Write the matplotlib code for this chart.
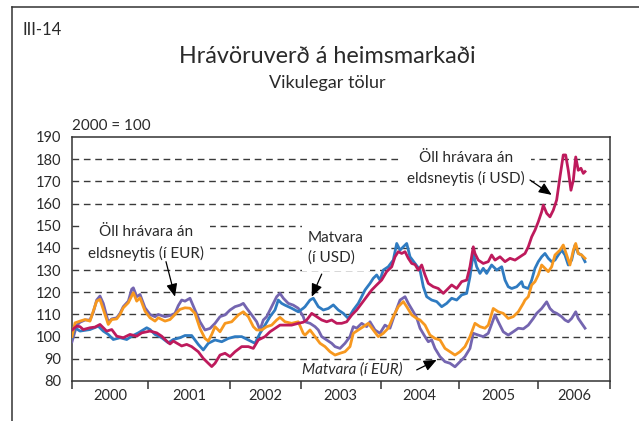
import numpy as np
import matplotlib
matplotlib.use("Agg")
import matplotlib.pyplot as plt
from matplotlib.lines import Line2D

plt.rcParams['font.family'] = ['Lato', 'DejaVu Sans']
plt.rcParams['lines.scale_dashes'] = False

# ---------------------------------------------------------------------------
# Weekly commodity price indices, 2000 = 100 (time in decimal years)
# ---------------------------------------------------------------------------
year_edges = [2000.0, 2000.989, 2002.056, 2002.976, 2004.017, 2005.032, 2006.063, 2007.0]
year_labels = ['2000', '2001', '2002', '2003', '2004', '2005', '2006']

# All commodities excl. fuel, in USD
t_all_usd = [2000.000, 2000.061, 2000.104, 2000.147, 2000.234, 2000.299, 2000.364, 2000.451, 2000.517, 2000.582,
             2000.667, 2000.755, 2000.842, 2000.907, 2001.015, 2001.102, 2001.167, 2001.232, 2001.275, 2001.318,
             2001.427, 2001.492, 2001.557, 2001.643, 2001.708, 2001.773, 2001.818, 2001.861, 2001.926, 2001.991,
             2002.056, 2002.121, 2002.208, 2002.294, 2002.359, 2002.424, 2002.511, 2002.576, 2002.641, 2002.706,
             2002.771, 2002.858, 2002.944, 2003.009, 2003.054, 2003.119, 2003.184, 2003.249, 2003.314, 2003.379,
             2003.444, 2003.509, 2003.574, 2003.639, 2003.704, 2003.769, 2003.834, 2003.899, 2003.964, 2004.029,
             2004.094, 2004.160, 2004.203, 2004.245, 2004.290, 2004.333, 2004.376, 2004.420, 2004.463, 2004.506,
             2004.550, 2004.593, 2004.636, 2004.701, 2004.766, 2004.831, 2004.875, 2004.940, 2005.005, 2005.070,
             2005.135, 2005.178, 2005.221, 2005.243, 2005.286, 2005.351, 2005.416, 2005.460, 2005.504, 2005.569,
             2005.634, 2005.699, 2005.764, 2005.829, 2005.894, 2005.937, 2005.981, 2006.024, 2006.067, 2006.111,
             2006.132, 2006.176, 2006.219, 2006.262, 2006.306, 2006.349, 2006.392, 2006.423, 2006.457, 2006.492,
             2006.523, 2006.554, 2006.587, 2006.622, 2006.653, 2006.675]
v_all_usd = [103.0, 104.7, 104.5, 103.2, 104.0, 104.3, 105.5, 102.5, 103.2, 100.2,
             99.5, 101.0, 100.2, 101.7, 102.5, 101.7, 100.2, 98.0, 96.7, 98.0,
             95.8, 96.5, 95.5, 93.2, 90.2, 88.0, 86.5, 88.0, 91.7, 92.5,
             91.0, 93.2, 95.5, 95.5, 94.7, 98.5, 100.0, 102.2, 103.7, 105.2,
             105.2, 105.2, 106.0, 106.5, 107.5, 110.5, 109.0, 107.5, 106.7, 107.5,
             106.0, 106.0, 106.7, 109.7, 112.0, 115.0, 118.0, 121.0, 123.3, 125.5,
             129.3, 131.5, 136.0, 138.3, 137.5, 138.3, 135.3, 133.0, 132.5, 130.0,
             132.3, 127.8, 124.0, 122.5, 121.7, 119.5, 121.0, 123.3, 121.7, 124.8,
             125.5, 131.5, 140.5, 137.5, 134.5, 133.0, 133.8, 136.8, 134.5, 136.0,
             133.8, 135.3, 134.5, 136.0, 137.5, 140.5, 145.0, 148.0, 151.8, 156.3,
             159.3, 155.6, 154.0, 157.0, 161.6, 172.0, 181.9, 181.9, 175.0, 166.0,
             170.6, 181.0, 175.0, 175.9, 173.6, 174.4]

# Food, in USD
t_food_usd = [2000.000, 2000.039, 2000.104, 2000.234, 2000.342, 2000.407, 2000.472, 2000.537, 2000.625, 2000.712,
              2000.777, 2000.863, 2000.972, 2001.015, 2001.080, 2001.167, 2001.253, 2001.318, 2001.405, 2001.470,
              2001.557, 2001.643, 2001.708, 2001.773, 2001.861, 2001.948, 2002.034, 2002.121, 2002.208, 2002.294,
              2002.381, 2002.446, 2002.511, 2002.576, 2002.641, 2002.684, 2002.728, 2002.771, 2002.858, 2002.944,
              2003.009, 2003.032, 2003.097, 2003.140, 2003.205, 2003.270, 2003.335, 2003.400, 2003.465, 2003.530,
              2003.595, 2003.660, 2003.725, 2003.769, 2003.812, 2003.877, 2003.920, 2003.964, 2004.007, 2004.050,
              2004.115, 2004.180, 2004.225, 2004.268, 2004.311, 2004.355, 2004.398, 2004.463, 2004.528, 2004.571,
              2004.615, 2004.680, 2004.745, 2004.810, 2004.875, 2004.940, 2005.005, 2005.070, 2005.135, 2005.178,
              2005.221, 2005.265, 2005.308, 2005.351, 2005.395, 2005.460, 2005.526, 2005.591, 2005.634, 2005.676,
              2005.721, 2005.786, 2005.851, 2005.872, 2005.937, 2005.981, 2006.024, 2006.067, 2006.111, 2006.154,
              2006.197, 2006.241, 2006.284, 2006.327, 2006.371, 2006.414, 2006.457, 2006.501, 2006.545, 2006.587,
              2006.631, 2006.675]
v_food_usd = [99.5, 104.0, 102.5, 103.2, 104.7, 102.5, 101.0, 98.7, 99.5, 98.7,
              100.2, 101.7, 104.0, 103.2, 101.0, 99.5, 97.2, 98.7, 99.5, 100.5,
              100.5, 96.5, 94.0, 97.0, 98.5, 97.7, 99.2, 100.0, 100.0, 98.5,
              97.0, 101.5, 105.2, 109.0, 112.0, 116.5, 115.0, 114.2, 112.8, 111.2,
              112.8, 113.5, 116.5, 117.3, 113.5, 112.0, 112.7, 114.3, 112.0, 110.5,
              108.2, 112.0, 115.0, 118.0, 121.0, 124.0, 126.3, 127.8, 125.5, 130.0,
              131.5, 134.5, 142.0, 139.0, 140.5, 142.0, 136.0, 133.0, 130.0, 122.5,
              118.0, 116.5, 115.8, 113.5, 115.0, 117.3, 116.5, 118.8, 119.5, 127.0,
              137.5, 131.5, 128.5, 130.8, 128.5, 132.3, 130.0, 131.5, 125.5, 122.5,
              121.7, 122.5, 124.8, 122.5, 121.7, 125.5, 130.8, 133.8, 136.0, 137.5,
              135.3, 133.8, 134.5, 136.8, 139.0, 136.8, 132.3, 134.5, 141.3, 137.5,
              136.8, 133.8]

# All commodities excl. fuel, in EUR
t_all_eur = [2000.000, 2000.039, 2000.104, 2000.169, 2000.234, 2000.277, 2000.321, 2000.364, 2000.407, 2000.472,
             2000.517, 2000.582, 2000.625, 2000.667, 2000.733, 2000.798, 2000.842, 2000.885, 2000.950, 2001.015,
             2001.080, 2001.123, 2001.210, 2001.275, 2001.340, 2001.405, 2001.470, 2001.535, 2001.600, 2001.665,
             2001.730, 2001.773, 2001.818, 2001.861, 2001.926, 2001.991, 2002.078, 2002.164, 2002.229, 2002.294,
             2002.359, 2002.403, 2002.468, 2002.533, 2002.598, 2002.663, 2002.706, 2002.771, 2002.858, 2002.944,
             2003.009, 2003.032, 2003.097, 2003.162, 2003.227, 2003.292, 2003.357, 2003.422, 2003.487, 2003.552,
             2003.617, 2003.660, 2003.725, 2003.791, 2003.855, 2003.920, 2003.985, 2004.050, 2004.115, 2004.180,
             2004.245, 2004.311, 2004.355, 2004.420, 2004.485, 2004.528, 2004.593, 2004.658, 2004.723, 2004.788,
             2004.853, 2004.918, 2004.983, 2005.048, 2005.113, 2005.178, 2005.243, 2005.308, 2005.373, 2005.416,
             2005.481, 2005.546, 2005.611, 2005.676, 2005.741, 2005.807, 2005.872, 2005.894, 2005.937, 2005.981,
             2006.024, 2006.067, 2006.111, 2006.154, 2006.197, 2006.241, 2006.284, 2006.349, 2006.392, 2006.436,
             2006.479, 2006.523, 2006.554, 2006.587, 2006.631, 2006.675]
v_all_eur = [100.0, 106.2, 107.0, 107.7, 107.0, 111.5, 116.0, 116.8, 112.3, 105.5,
             107.7, 108.0, 110.0, 113.0, 115.3, 119.8, 116.0, 117.5, 111.5, 108.5,
             107.0, 108.5, 107.0, 107.7, 110.0, 112.3, 113.0, 112.8, 110.5, 103.7,
             99.2, 98.0, 101.0, 104.5, 102.2, 106.0, 106.7, 109.8, 111.2, 109.0,
             104.5, 103.0, 103.0, 104.5, 105.2, 107.5, 108.7, 106.7, 106.0, 106.7,
             101.5, 100.7, 103.0, 100.0, 97.0, 95.5, 93.2, 91.7, 92.5, 93.2,
             95.5, 101.5, 103.0, 104.5, 106.0, 103.0, 100.0, 101.5, 103.8, 109.0,
             113.5, 115.8, 113.5, 109.8, 108.2, 107.5, 105.2, 100.7, 99.2, 98.5,
             94.7, 93.2, 91.7, 93.2, 95.5, 100.0, 106.0, 104.5, 103.8, 105.2,
             112.7, 111.2, 110.5, 108.2, 109.0, 111.2, 115.0, 116.5, 118.0, 123.3,
             124.8, 127.8, 132.3, 130.8, 129.3, 131.5, 136.8, 139.0, 141.3, 136.8,
             132.3, 139.0, 142.0, 137.5, 136.8, 135.3]

# Food, in EUR
t_food_eur = [2000.000, 2000.061, 2000.104, 2000.169, 2000.234, 2000.277, 2000.321, 2000.364, 2000.407, 2000.472,
              2000.517, 2000.582, 2000.625, 2000.667, 2000.733, 2000.777, 2000.798, 2000.842, 2000.885, 2000.950,
              2001.015, 2001.080, 2001.123, 2001.210, 2001.275, 2001.340, 2001.383, 2001.427, 2001.470, 2001.535,
              2001.600, 2001.665, 2001.730, 2001.796, 2001.861, 2001.926, 2001.991, 2002.056, 2002.121, 2002.186,
              2002.229, 2002.273, 2002.338, 2002.403, 2002.446, 2002.489, 2002.533, 2002.598, 2002.663, 2002.706,
              2002.750, 2002.814, 2002.879, 2002.944, 2003.009, 2003.032, 2003.097, 2003.162, 2003.205, 2003.249,
              2003.314, 2003.379, 2003.422, 2003.487, 2003.552, 2003.617, 2003.660, 2003.704, 2003.769, 2003.834,
              2003.877, 2003.942, 2004.007, 2004.072, 2004.137, 2004.203, 2004.268, 2004.333, 2004.376, 2004.441,
              2004.485, 2004.528, 2004.593, 2004.636, 2004.680, 2004.723, 2004.788, 2004.853, 2004.918, 2004.983,
              2005.048, 2005.113, 2005.178, 2005.221, 2005.286, 2005.351, 2005.416, 2005.504, 2005.546, 2005.611,
              2005.676, 2005.741, 2005.807, 2005.872, 2005.937, 2006.002, 2006.046, 2006.111, 2006.176, 2006.219,
              2006.262, 2006.306, 2006.371, 2006.414, 2006.457, 2006.501, 2006.554, 2006.587, 2006.631, 2006.675]
v_food_eur = [97.7, 105.0, 106.5, 107.5, 107.5, 111.0, 116.5, 118.3, 115.0, 106.5,
              108.0, 108.5, 110.5, 113.5, 116.0, 121.4, 122.0, 118.0, 119.0, 113.0,
              110.0, 109.0, 110.0, 109.0, 109.5, 110.5, 114.0, 116.5, 116.0, 117.3,
              112.0, 106.7, 103.0, 103.7, 106.0, 109.0, 109.8, 112.0, 113.5, 114.2,
              115.0, 112.8, 109.8, 106.7, 103.0, 107.5, 109.0, 113.5, 118.0, 119.5,
              117.3, 115.0, 114.2, 112.8, 109.0, 106.7, 106.0, 104.5, 103.0, 100.0,
              98.5, 97.0, 95.5, 94.7, 97.0, 100.0, 104.5, 103.8, 106.0, 104.5,
              106.7, 103.0, 101.5, 105.2, 103.8, 110.5, 116.5, 118.0, 115.0, 111.2,
              108.5, 103.8, 100.0, 97.7, 98.5, 94.7, 91.0, 88.7, 88.0, 86.4,
              88.7, 91.0, 94.7, 101.5, 100.7, 100.0, 101.5, 109.8, 106.7, 102.2,
              100.7, 102.2, 103.8, 103.5, 105.2, 108.2, 110.5, 112.7, 115.7, 112.7,
              111.2, 110.5, 109.0, 107.5, 106.7, 108.2, 111.2, 108.2, 106.0, 103.8]

# ---------------------------------------------------------------------------
W, H = 639, 421
fig = plt.figure(figsize=(W / 100, H / 100), dpi=100)
fig.patch.set_facecolor('white')

ax = fig.add_axes([72 / W, 1 - 381 / H, 538 / W, 244 / H])
ax.set_xlim(2000, 2007)
ax.set_ylim(80, 190)

text_col = '#2a2a2a'
frame_col = '#333333'

# dashed horizontal grid
for v in range(90, 190, 10):
    ax.axhline(v, color='#3a3a3a', lw=1.0, dashes=(4.8, 3.4), zorder=1)

# series
c_purple = '#7465B0'
c_blue = '#2F7BC1'
c_orange = '#F7981F'
c_magenta = '#BE1A5C'
lw = 2.0
ax.plot(t_food_eur, v_food_eur, color=c_purple, lw=lw, zorder=3, solid_joinstyle='round')
ax.plot(t_food_usd, v_food_usd, color=c_blue, lw=lw, zorder=3, solid_joinstyle='round')
ax.plot(t_all_eur, v_all_eur, color=c_orange, lw=lw, zorder=3, solid_joinstyle='round')
ax.plot(t_all_usd, v_all_usd, color=c_magenta, lw=lw, zorder=3, solid_joinstyle='round')

# axes frame
for s in ax.spines.values():
    s.set_color(frame_col)
    s.set_linewidth(1.1)

ax.set_yticks(range(80, 191, 10))
ax.tick_params(axis='y', length=0, pad=8, labelsize=10.5, labelcolor=text_col)

mids = [(a + b) / 2 for a, b in zip(year_edges[:-1], year_edges[1:])]
ax.set_xticks(year_edges)
ax.set_xticklabels([])
ax.set_xticks(mids, minor=True)
ax.set_xticklabels(year_labels, minor=True)
ax.tick_params(axis='x', which='major', length=5.5, width=1.1, color=frame_col, direction='out')
ax.tick_params(axis='x', which='minor', length=0, pad=6, labelsize=10.5, labelcolor=text_col)

# labels with arrows
box = dict(boxstyle='square,pad=0.4', fc='white', ec='none')
arrow = dict(arrowstyle='-|>,head_length=0.7,head_width=0.3', color='black', lw=0.9,
             shrinkA=0, shrinkB=0, mutation_scale=11)
fs = 11

ax.text(2000.963, 142.2, 'Öll hrávara án\neldsneytis (í EUR)', ha='center', va='center',
        fontsize=fs, color=text_col, linespacing=1.5, bbox=box, zorder=2)
ax.annotate('', xy=(2001.34, 118.0), xytext=(2001.223, 133.8), arrowprops=arrow, zorder=5)

ax.text(2003.071, 140.0, 'Matvara\n(í USD)', ha='left', va='center',
        fontsize=fs, color=text_col, linespacing=1.5, bbox=box, zorder=2)
ax.annotate('', xy=(2003.119, 118.0), xytext=(2003.249, 128.2), arrowprops=arrow, zorder=5)

ax.text(2005.126, 175.8, 'Öll hrávara án\neldsneytis (í USD)', ha='center', va='center',
        fontsize=fs, color=text_col, linespacing=1.5, bbox=box, zorder=2)
ax.annotate('', xy=(2006.241, 163.9), xytext=(2005.959, 170.6), arrowprops=arrow, zorder=5)

ax.text(2003.65, 85.0, 'Matvara (í EUR)', ha='center', va='center', style='italic',
        fontsize=fs, color=text_col, zorder=2)
ax.annotate('', xy=(2004.745, 89.5), xytext=(2004.485, 85.0), arrowprops=arrow, zorder=5)

# figure texts
fig.text(22 / W, 1 - 30 / H, 'III-14', ha='left', va='center', fontsize=12, color=text_col)
fig.text(327.5 / W, 1 - 63 / H, 'Hrávöruverð á heimsmarkaði', ha='center', va='baseline',
         fontsize=16.8, color=text_col)
fig.text(327.5 / W, 1 - 88.3 / H, 'Vikulegar tölur', ha='center', va='baseline',
         fontsize=13, color=text_col)
fig.text(72 / W, 1 - 130 / H, '2000 = 100', ha='left', va='baseline', fontsize=11, color=text_col)

# outer frame (top and left edges)
fig.add_artist(Line2D([12 / W, 1], [1 - 7 / H, 1 - 7 / H], transform=fig.transFigure,
                      color=frame_col, lw=1.1))
fig.add_artist(Line2D([12 / W, 12 / W], [0, 1 - 7 / H], transform=fig.transFigure,
                      color=frame_col, lw=1.1))

fig.savefig('out.png', dpi=100)
